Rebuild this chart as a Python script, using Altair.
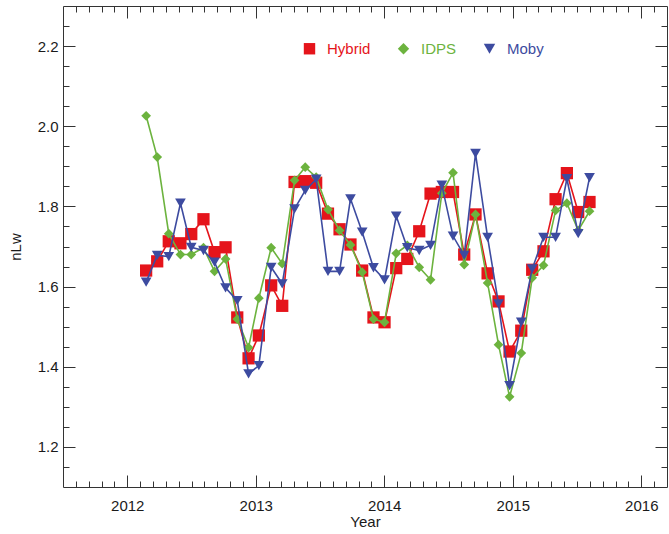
import altair as alt
import pandas as pd

# ---- data ----
years = [2012.147, 2012.233, 2012.323, 2012.414, 2012.498, 2012.593, 2012.679, 2012.765,
         2012.856, 2012.944, 2013.024, 2013.120, 2013.206, 2013.302, 2013.385, 2013.470,
         2013.562, 2013.652, 2013.737, 2013.828, 2013.916, 2014.002, 2014.093, 2014.179,
         2014.272, 2014.360, 2014.448, 2014.535, 2014.622, 2014.710, 2014.804, 2014.889,
         2014.975, 2015.066, 2015.151, 2015.239, 2015.333, 2015.421, 2015.509, 2015.597]

hybrid = [1.640, 1.663, 1.713, 1.708, 1.731, 1.768, 1.686, 1.698, 1.523, 1.421,
          1.478, 1.603, 1.552, 1.861, 1.863, 1.859, 1.782, 1.743, 1.705, 1.640,
          1.523, 1.511, 1.646, 1.669, 1.738, 1.832, 1.836, 1.836, 1.680, 1.780,
          1.633, 1.563, 1.438, 1.490, 1.642, 1.688, 1.818, 1.883, 1.786, 1.811]

idps = [2.026, 1.923, 1.732, 1.680, 1.680, 1.697, 1.638, 1.669, 1.519, 1.448,
        1.571, 1.697, 1.657, 1.865, 1.898, 1.873, 1.792, 1.740, 1.704, 1.636,
        1.519, 1.511, 1.683, 1.703, 1.648, 1.617, 1.833, 1.884, 1.655, 1.780,
        1.609, 1.455, 1.325, 1.434, 1.622, 1.653, 1.790, 1.808, 1.740, 1.788]

moby = [1.611, 1.678, 1.675, 1.808, 1.698, 1.690, 1.661, 1.597, 1.565, 1.382,
        1.403, 1.648, 1.607, 1.794, 1.840, 1.868, 1.638, 1.638, 1.819, 1.736,
        1.647, 1.617, 1.776, 1.697, 1.690, 1.703, 1.853, 1.726, 1.678, 1.932,
        1.723, 1.557, 1.353, 1.511, 1.644, 1.723, 1.723, 1.869, 1.732, 1.872]

series_names = ["Hybrid", "IDPS", "Moby"]
series_colors = ["#E5141B", "#6CB33E", "#3D4BA0"]
series_shapes = ["square", "diamond", "triangle-down"]
series_sizes = [150, 95, 115]

x_major = [2012, 2013, 2014, 2015, 2016]
x_minor = [round(2011.6 + 0.1 * i, 1) for i in range(46)]
x_minor = [v for v in x_minor if abs(v - round(v)) > 1e-6]
y_major = [1.2, 1.4, 1.6, 1.8, 2.0, 2.2]
y_minor = [round(1.15 + 0.05 * i, 2) for i in range(23)]
y_minor = [v for v in y_minor if abs(v * 5 - round(v * 5)) > 1e-6]

rows = []
for name, vals in zip(series_names, [hybrid, idps, moby]):
    for yr, v in zip(years, vals):
        rows.append({"year": yr, "value": v, "series": name})
df = pd.DataFrame(rows)

FONT = "Liberation Sans"
TXT = "#1a1a1a"
FRAME = "#333333"

xscale = alt.Scale(domain=[2011.5, 2016.2], nice=False, zero=False)
yscale = alt.Scale(domain=[1.1, 2.3], nice=False, zero=False)
cscale = alt.Scale(domain=series_names, range=series_colors)
sscale = alt.Scale(domain=series_names, range=series_shapes)

label_color = alt.ExprRef(
    expr="datum.label == 'Hybrid' ? '%s' : (datum.label == 'IDPS' ? '%s' : '%s')"
    % tuple(series_colors)
)


def make_legend():
    return alt.Legend(
        orient="none", legendX=239, legendY=35, direction="horizontal",
        title=None, labelFont=FONT, labelFontSize=15, labelColor=label_color,
        symbolSize=130, symbolStrokeWidth=0, labelOffset=10, columnPadding=25,
        symbolOpacity=1,
    )


layers = []
for name, size in zip(series_names, series_sizes):
    base = alt.Chart(df).transform_filter(alt.datum.series == name)
    line = base.mark_line(strokeWidth=1.6).encode(
        x=alt.X("year:Q", scale=xscale, axis=None),
        y=alt.Y("value:Q", scale=yscale, axis=None),
        color=alt.Color("series:N", scale=cscale, legend=make_legend()),
    )
    pts = base.mark_point(filled=True, opacity=1, size=size).encode(
        x=alt.X("year:Q", scale=xscale, axis=None),
        y=alt.Y("value:Q", scale=yscale, axis=None),
        color=alt.Color("series:N", scale=cscale, legend=make_legend()),
        shape=alt.Shape("series:N", scale=sscale, legend=make_legend()),
    )
    layers += [line, pts]


def axis_layer(xaxis, yaxis):
    return alt.Chart(df).mark_point(opacity=0).encode(
        x=alt.X("year:Q", scale=xscale, axis=xaxis),
        y=alt.Y("value:Q", scale=yscale, axis=yaxis),
    )


common = dict(grid=False, labelFont=FONT, titleFont=FONT, tickColor=FRAME, domainColor=FRAME,
              tickWidth=1, domainWidth=1)

# labels + bottom/left frame
lab = axis_layer(
    alt.Axis(orient="bottom", values=x_major, format="d", ticks=False, labelPadding=11,
             labelFontSize=15, labelColor=TXT, title="Year", titleFontSize=15,
             titleFontWeight="normal", titleColor=TXT, titlePadding=1, domain=True,
             labelFlush=False, **common),
    alt.Axis(orient="left", values=y_major, format=".1f", ticks=False, labelPadding=5,
             labelFontSize=15, labelColor=TXT, title="nLw", titleFontSize=15,
             titleFontWeight="normal", titleColor=TXT, titlePadding=14, domain=True,
             labelFlush=False, **common),
)
maj_in = axis_layer(
    alt.Axis(orient="bottom", values=x_major, labels=False, domain=False, title=None,
             tickSize=alt.ExprRef(expr="-12"), **common),
    alt.Axis(orient="left", values=y_major, labels=False, domain=False, title=None,
             tickSize=alt.ExprRef(expr="-12"), **common),
)
maj_out = axis_layer(
    alt.Axis(orient="top", values=x_major, labels=False, domain=True, title=None,
             tickSize=alt.ExprRef(expr="-12"), **common),
    alt.Axis(orient="right", values=y_major, labels=False, domain=True, title=None,
             tickSize=alt.ExprRef(expr="-12"), **common),
)
min_in = axis_layer(
    alt.Axis(orient="bottom", values=x_minor, labels=False, domain=False, title=None,
             tickSize=alt.ExprRef(expr="-6"), **common),
    alt.Axis(orient="left", values=y_minor, labels=False, domain=False, title=None,
             tickSize=alt.ExprRef(expr="-6"), **common),
)
min_out = axis_layer(
    alt.Axis(orient="top", values=x_minor, labels=False, domain=False, title=None,
             tickSize=alt.ExprRef(expr="-6"), **common),
    alt.Axis(orient="right", values=y_minor, labels=False, domain=False, title=None,
             tickSize=alt.ExprRef(expr="-6"), **common),
)

chart = alt.layer(lab, maj_in, maj_out, min_in, min_out, *layers).resolve_axis(
    x="independent", y="independent"
).properties(
    width=604, height=481,
    padding={"left": 63, "top": 6, "right": 2, "bottom": 47},
    autosize=alt.AutoSizeParams(type="none"),
    background="white",
).configure_view(stroke=None)

chart.save("out.html", embed_options={"renderer": "svg", "actions": False})
